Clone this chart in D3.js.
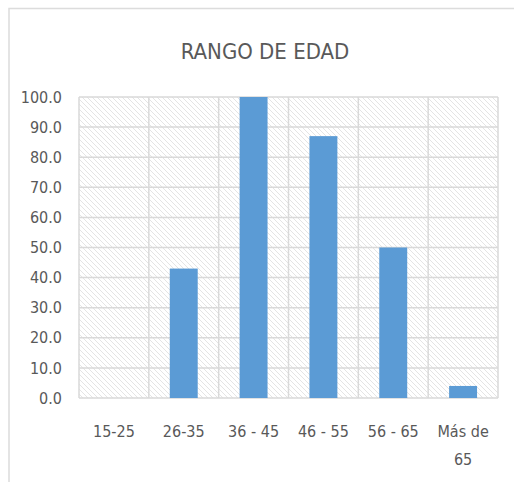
<!DOCTYPE html>
<html><head><meta charset="utf-8">
<script src="https://cdn.jsdelivr.net/npm/d3@7"></script>
<style>html,body{margin:0;padding:0;background:#fff;}svg{display:block;}</style>
</head><body>
<script>
const categories = ["15-25", "26-35", "36 - 45", "46 - 55", "56 - 65", "Más de|65"];
const values = [0, 43, 100, 87, 50, 4];
const yTicks = [0, 10, 20, 30, 40, 50, 60, 70, 80, 90, 100];
const title = "RANGO DE EDAD";

(function () {
const W = 514, H = 482;
const font = "'Liberation Sans Narrow', 'DejaVu Sans Condensed', sans-serif";
const svg = d3.select("body").append("svg").attr("width", W).attr("height", H);

const defs = svg.append("defs");
const pat = defs.append("pattern").attr("id", "hatch").attr("patternUnits", "userSpaceOnUse")
  .attr("width", 5).attr("height", 5);
pat.append("rect").attr("width", 5).attr("height", 5).attr("fill", "#fff");
pat.append("path").attr("d", "M-1,-1 L6,6 M-1,4 L1,6 M4,-1 L6,1").attr("stroke", "#e4e4e4").attr("stroke-width", 1);

// chart border
svg.append("path").attr("d", `M9,${H} L9,8.5 L${W},8.5`).attr("fill", "none").attr("stroke", "#dcdcdc").attr("stroke-width", 1.5);

const pLeft = 79, pRight = 498, pTop = 97, pBottom = 398;
const x = d3.scaleBand().domain(categories).range([pLeft, pRight]).paddingInner(0).paddingOuter(0);
const y = d3.scaleLinear().domain([0, 100]).range([pBottom, pTop]);

svg.append("rect").attr("x", pLeft).attr("y", pTop).attr("width", pRight - pLeft).attr("height", pBottom - pTop).attr("fill", "url(#hatch)");

// horizontal grid
svg.append("g").selectAll("line").data(yTicks).join("line")
  .attr("x1", pLeft).attr("x2", pRight).attr("y1", d => y(d)).attr("y2", d => y(d))
  .attr("stroke", "#d9d9d9").attr("stroke-width", 1.5);
// vertical grid at category boundaries
const bounds = categories.map(c => x(c)).concat([pRight]);
svg.append("g").selectAll("line").data(bounds).join("line")
  .attr("x1", d => d).attr("x2", d => d).attr("y1", pTop).attr("y2", pBottom)
  .attr("stroke", "#d9d9d9").attr("stroke-width", 1.5);

// bars
const bw = x.bandwidth() * 0.4;
svg.append("g").selectAll("rect").data(values).join("rect")
  .attr("x", (d, i) => x(categories[i]) + x.bandwidth() / 2 - bw / 2)
  .attr("width", bw)
  .attr("y", d => y(d))
  .attr("height", d => pBottom - y(d))
  .attr("fill", "#5b9bd5");

// y axis labels
const yAxis = d3.axisLeft(y).tickValues(yTicks).tickFormat(d3.format(".1f")).tickSize(0).tickPadding(0);
const ga = svg.append("g").attr("transform", `translate(62,0)`).call(yAxis);
ga.select(".domain").remove();
ga.selectAll("text").attr("font-family", font).attr("font-size", 16).attr("fill", "#595959");

// x labels
const xg = svg.append("g");
categories.forEach(c => {
  const lines = c.split("|");
  const t = xg.append("text").attr("x", x(c) + x.bandwidth() / 2).attr("y", 437)
    .attr("text-anchor", "middle").attr("font-family", font).attr("font-size", 16).attr("fill", "#595959");
  lines.forEach((l, i) => t.append("tspan").attr("x", x(c) + x.bandwidth() / 2).attr("dy", i === 0 ? 0 : 28).text(l));
});

// title
svg.append("text").attr("x", 265).attr("y", 59).attr("text-anchor", "middle")
  .attr("font-family", font).attr("font-size", 22).attr("fill", "#595959").text(title);
})();
</script>
</body></html>
